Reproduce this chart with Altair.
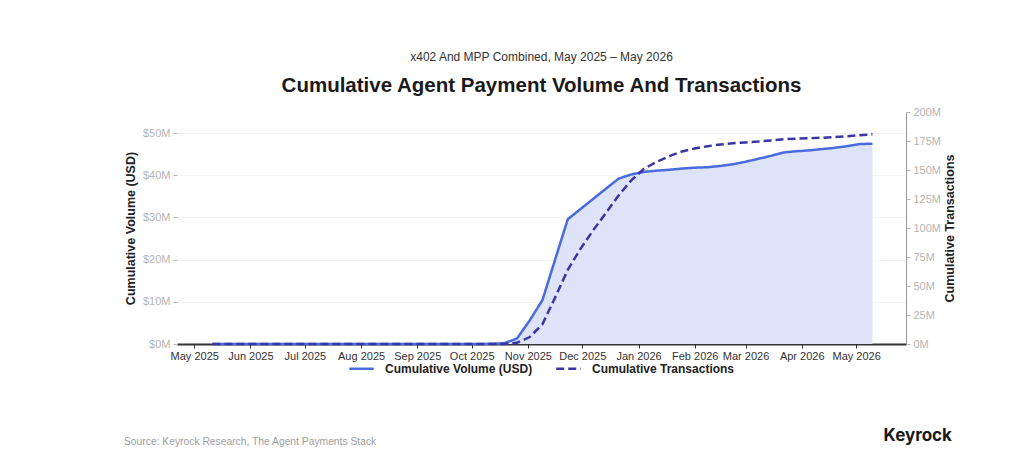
import altair as alt
import pandas as pd

# Weekly observation dates (Sundays), May 11 2025 - May 10 2026
dates = pd.date_range("2025-05-11", "2026-05-10", freq="7D").strftime("%Y-%m-%d").tolist()

# Cumulative volume, millions of USD
volume_musd = [
    0.0, 0.0, 0.0, 0.0, 0.0, 0.0, 0.0, 0.0, 0.0, 0.0, 0.0, 0.0,
    0.0, 0.0, 0.0, 0.0, 0.0, 0.0, 0.0, 0.0, 0.0, 0.0, 0.05,
    0.2, 1.3, 5.6, 10.4, 20.0, 29.6, 32.0, 34.4, 36.8, 39.2, 40.2,
    40.8, 41.1, 41.3, 41.6, 41.8, 41.9, 42.2, 42.6, 43.2, 43.9, 44.6,
    45.4, 45.7, 45.9, 46.2, 46.5, 46.9, 47.4, 47.5,
]

# Cumulative transactions, millions
transactions_m = [
    0.0, 0.0, 0.0, 0.0, 0.0, 0.0, 0.0, 0.0, 0.0, 0.0, 0.0, 0.0,
    0.0, 0.0, 0.0, 0.0, 0.0, 0.0, 0.0, 0.0, 0.0, 0.0, 0.0,
    0.1, 1.0, 6.0, 17.0, 40.0, 64.0, 82.0, 98.0, 113.0, 128.0, 141.0,
    151.0, 157.0, 162.0, 166.0, 168.5, 170.5, 172.0, 173.0, 173.8, 174.5, 175.5,
    176.5, 177.0, 177.4, 177.8, 178.3, 179.0, 180.0, 180.8,
]

series_names = ["Cumulative Volume (USD)", "Cumulative Transactions"]
series_colors = ["#4a6be0", "#3b36a3"]

month_ticks = [
    (2025, 5), (2025, 6), (2025, 7), (2025, 8), (2025, 9), (2025, 10),
    (2025, 11), (2025, 12), (2026, 1), (2026, 2), (2026, 3), (2026, 4), (2026, 5),
]
volume_ticks = [0, 10, 20, 30, 40, 50]
tx_ticks = [0, 25, 50, 75, 100, 125, 150, 175, 200]

source_text = "Source: Keyrock Research, The Agent Payments Stack"
brand_text = "Keyrock"
subtitle_text = "x402 And MPP Combined, May 2025 \u2013 May 2026"
title_text = "Cumulative Agent Payment Volume And Transactions"

vol_df = pd.DataFrame({"date": dates, "value": volume_musd, "series": series_names[0]})
tx_df = pd.DataFrame({"date": dates, "value": transactions_m, "series": series_names[1]})

FONT = "Liberation Sans"

x_enc = alt.X(
    "date:T",
    title=None,
    scale=alt.Scale(
        domain=[
            alt.DateTime(year=2025, month=4, date=21, hours=12),
            alt.DateTime(year=2026, month=5, date=28, hours=12),
        ],
        nice=False,
    ),
    axis=alt.Axis(
        values=[alt.DateTime(year=y, month=m, date=1) for y, m in month_ticks],
        format="%b %Y",
        labelOverlap=False,
        labelFlush=False,
        grid=False,
        domainColor="#333333",
        domainWidth=2,
        tickColor="#333333",
        tickSize=4,
        labelColor="#333333",
        labelFontSize=11,
        labelFont=FONT,
        labelPadding=2,
    ),
)

legend = alt.Legend(
    title=None,
    orient="none",
    legendX=171,
    legendY=243,
    direction="horizontal",
    symbolType="stroke",
    symbolSize=600,
    symbolStrokeWidth=2.5,
    labelFont=FONT,
    labelFontSize=12,
    labelFontWeight="bold",
    labelColor="#222222",
    labelOffset=10,
    columnPadding=18,
)

color_enc = alt.Color(
    "series:N",
    scale=alt.Scale(domain=series_names, range=series_colors),
    legend=legend,
)
dash_enc = alt.StrokeDash(
    "series:N",
    scale=alt.Scale(domain=series_names, range=[[1, 0], [8, 4]]),
    legend=legend,
)

y_left = alt.Y(
    "value:Q",
    scale=alt.Scale(domain=[0, 55], nice=False),
    axis=alt.Axis(
        orient="left",
        title="Cumulative Volume (USD)",
        values=volume_ticks,
        labelExpr='"$" + datum.value + "M"',
        domain=False,
        grid=True,
        gridColor="#f3f3f3",
        tickColor="#bbbbbb",
        tickSize=4,
        labelColor="#b5b5b5",
        labelFontSize=11,
        labelFont=FONT,
        labelPadding=3,
        titleFont=FONT,
        titleFontSize=12.5,
        titleFontWeight="bold",
        titleColor="#222222",
        titlePadding=5,
    ),
)

y_right = alt.Y(
    "value:Q",
    scale=alt.Scale(domain=[0, 200], nice=False),
    axis=alt.Axis(
        orient="right",
        title="Cumulative Transactions",
        titleAngle=270,
        titleBaseline="top",
        values=tx_ticks,
        labelExpr='datum.value + "M"',
        domain=True,
        domainColor="#9a9a9a",
        domainWidth=1,
        grid=False,
        tickColor="#bbbbbb",
        tickSize=4,
        labelColor="#b5b5b5",
        labelFontSize=11,
        labelFont=FONT,
        labelPadding=3,
        titleFont=FONT,
        titleFontSize=12.5,
        titleFontWeight="bold",
        titleColor="#222222",
        titlePadding=3,
    ),
)

area = alt.Chart(vol_df).mark_area(color="#dde4fa", opacity=1).encode(x=x_enc, y=y_left)
line_vol = alt.Chart(vol_df).mark_line(strokeWidth=2.5).encode(
    x=x_enc, y=y_left, color=color_enc, strokeDash=dash_enc
)
left = alt.layer(area, line_vol)

line_tx = alt.Chart(tx_df).mark_line(strokeWidth=2.5).encode(
    x=x_enc, y=y_right, color=color_enc, strokeDash=dash_enc
)

one = pd.DataFrame({"k": [0]})
src = alt.Chart(one).mark_text(
    text=source_text, font=FONT, fontSize=10.3, color="#9e9e9e", align="left", baseline="middle"
).encode(x=alt.value(-53), y=alt.value(330))
brand = alt.Chart(one).mark_text(
    text=brand_text, font="Inter", fontSize=17, fontWeight="bold", color="#1a1a1a",
    align="right", baseline="middle"
).encode(x=alt.value(775), y=alt.value(324))

chart = (
    alt.layer(left, line_tx, src, brand)
    .resolve_scale(y="independent")
    .properties(
        width=729,
        height=232,
        padding={"left": 116, "top": 42, "right": 10, "bottom": 4},
        background="white",
        title=alt.TitleParams(
            text=subtitle_text,
            subtitle=title_text,
            anchor="middle",
            font=FONT,
            fontSize=12,
            fontWeight="normal",
            color="#333333",
            subtitleFont=FONT,
            subtitleFontSize=20.5,
            subtitleFontWeight="bold",
            subtitleColor="#1a1a1a",
            subtitlePadding=12,
            offset=9,
        ),
    )
    .configure_view(stroke=None)
)

chart.save("out.html", embed_options={"renderer": "svg", "actions": False})
